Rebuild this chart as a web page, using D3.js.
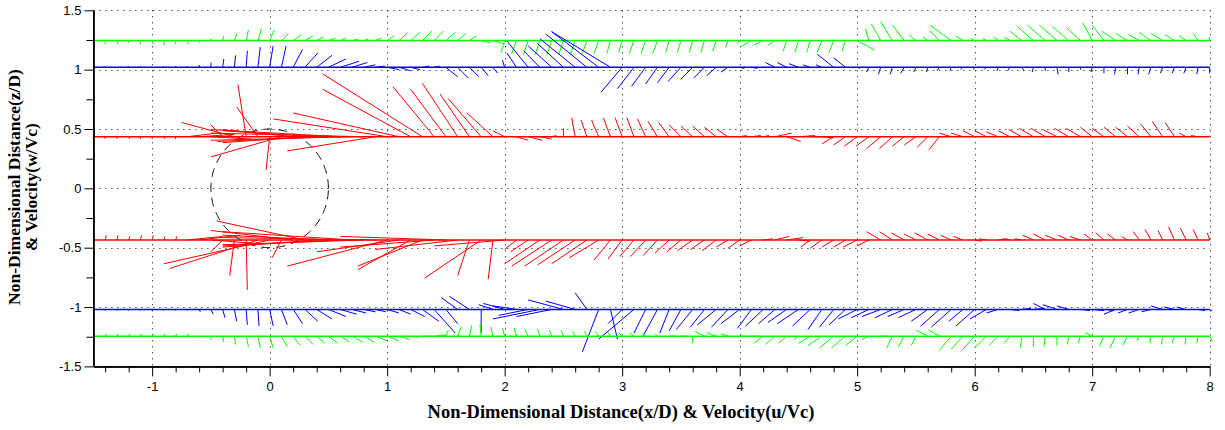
<!DOCTYPE html>
<html>
<head>
<meta charset="utf-8">
<script src="https://cdn.jsdelivr.net/npm/d3@7/dist/d3.min.js"></script>
<style>
  body { margin: 0; background: #fff; }
  .tick text { font-family: "Liberation Sans", Arial, sans-serif; font-size: 13px; fill: #000; }
  .title { font-family: "Liberation Serif", "Times New Roman", serif; font-weight: bold; fill: #000; }
</style>
</head>
<body>
<div id="chart"></div>
<script>
const width = 1225
const height = 430
const plot = {left: 93.4, right: 1209.7, top: 10.3, bottom: 366.4}

// measurement stations along x/D: x0, x0+step, ...
const x0 = -1.5
const step = 0.1

// rake heights (z/D) of the six traverses
const levels = [1.245, 1.02, 0.435, -0.435, -1.02, -1.245]
const colors = ["#00ff00", "#0000ff", "#ff0000", "#ff0000", "#0000ff", "#00ff00"]

// velocity components u/Vc and w/Vc, in hundredths
const greenTopU = [0,0,1,0,0,1,0,0,1, 0,0,1,2,2,3,4,6,7,7,6,6,5,5,4,5, 6,7,8,8,8,8,7,6,8,10,
  -3,-4,-4,-4,-4,-4,-4,-4,-4,-3, -3,-4,-4,-4,-3,-3,-3,-3,-3,-2, -2,-9,-8,-6,-3,-3,-3,-4,-4,-3,
  15,-3,-8,-10,-10,-6,-4,-8,-18,-6, -3,-3,-4,-5,-10,-14,-15,-15,-14,-12, -8,-10,-12,-10,-9,-10,-10,-8,-6,-4,0]
const greenTopW = [-3,-3,-3,-2,-3,-3,-4,-3,-3, -2,2,4,6,9,10,9,6,5,4, 3,2,2,1,1,2,4,6,7,8, 8,7,6,4,-2,-3,
  -10,-11,-12,-12,-12,-12,-12,-11,-11,-11, -10,-11,-11,-11,-10,-10,-10,-10,-9,-6, -3,-5,-4,-4,-9,-10,-10,-10,-10,-9,
  -8,10,14,16,13,5,3,8,13,4, 2,2,3,3,8,12,13,13,12,11, 15,13,8,6,5,7,6,5,4,6,3]

const blueTopU = [0,0,0,0,0,0,0,0,0, 0,0,1,1,1,2,3,4,8,11,13,15,16,13,10,8, 10,10,8,6,5,10,9,8,6,4,
  -2,-8,-18,-14,-20,-22,-30,-35,-40,-50, -18,-14,-12,-10,-10,-11,-10,-9,-8,-6, 4,5,2,-8,-8,-8,-6,-5,-14,-10,
  2,-2,-2,-2,-3,-2,-1,-2,-1,-2, -1,-2,-1,-2,2,-1,0,1,0,0, -1,0,-1,0,-1,-2,-2,-2,-2,-1,0]
const blueTopW = [1,1,0,1,1,0,1,1,1, 2,4,7,10,14,17,18,18,15,12,10,7,5,4,2,1, -2,-3,-2,1,1,-8,-9,-8,-7,-5,
  6,12,22,14,18,20,24,28,30,30, -21,-18,-16,-14,-13,-12,-10,-9,-7,-4, -1,-1,0,4,4,3,2,2,11,8,
  -1,-4,-6,-6,-5,-4,-4,-3,-3,-2, -2,-2,-3,-3,-3,-4,-3,-6,-4,-2, -4,-5,-6,-6,-6,-6,-5,-5,-5,-6,-5]

const redTopU = [0,0,0,1,0,0,1,0, 25,30,35, -10,-45,-7,-18,-3,-60,-60,-70, -80,-95,-110,-120,-130,-75,
  -97,-90,-75,-85,-35,-30,-30,-25,-28,-22,-10, 10,12,10,4,0,-3,-5,-6,-6,-6, -6,-7,-8,-9,-10,-10,-10,-10,-9,6,
  8,5,14,12,14,12,10,-10,-10,-11, -11,-12,-11,-10,-10,-9,-9,-10,-10,-10, -10,-10,-10,-11,-12,-12,-12,-12,-12,-10,
  -10,-10,-10,-10,-9,-9,-8,-6,-6,0]
const redTopW = [-2,-2,-2,-2,-2,-2,-2,-2, 3,2,-2, 10,12,44,25,-28,-17,6,-5, 5,-4,6,-3,3,-12,
  15,20,40,53,42,40,45,36,32,20,5, -3,-3,-2,1,7,16,14,14,16,16, 16,15,13,12,10,9,9,8,6,1,
  1,1,3,-4,1,0,-1,-6,-7,-8, -8,-10,-10,-8,-7,-9,-11,3,3,5, 5,4,5,6,7,7,6,7,7,8,
  7,8,8,9,11,13,12,3,1,1]

const redBotU = [1,1,1,1,1,1,1,1, 30,35,40, -10,-4,1,-75,-90,-8,-70,-75, -80,-90,-100,-110,-120,-130,
  -85,-70,-45,-55,-80,-90,-70,-10,-48,-4,-60, -10,-15,-30,-34,-33,-32,-30,-25,-14,-12, -12,-13,-12,-12,-12,-13,-12,-12,-10,-10,
  -10,8,12,14,10,-8,-10,-10,-10,-12, -10,-12,-11,-11,-10,-11,-10,-9,-8,6, -6,8,-6,-6,-9,-10,-10,-9,-9,-7,
  -7,-7,-5,-5,-5,-4,-5,-5,-4,-2]
const redBotW = [4,4,4,3,4,4,3,3, 3,4,-3, -10,-30,-42,-24,-20,-15,8,16, -6,4,-5,7,-4,2,
  -22,-10,-25,-22,-6,3,-8,-30,-32,-33,-5, -8,-10,-20,-22,-22,-21,-20,-15,-17,-16, -14,-14,-13,-11,-10,-9,-8,-9,-6,-7,
  -5,1,3,2,-1,-6,-7,-6,-6,-6, -5,7,7,6,5,6,5,4,3,-1, 1,1,1,1,4,5,4,4,3,5,
  6,5,3,7,9,8,11,10,9,6]

const blueBotU = [0,0,0,0,0,0,0,0,0, 1,2,2,2,1,1,3,5,8,11,13,15,14,12,10,9, 10,10,12,14,18,10,-14,-17,0,-12,
  -18,-20,-25,-40,-30,-30,-25,-10,-14,6, -12,-30,-10,-12,-8,-10,-14,-12,-16,-14, -16,-12,-15,-14,-16,-18,-15,-12,-12,-14,
  -16,-15,-16,-15,-14,-15,-14,-16,-17,-12, -16,-14,-10,8,8,10,-10,-12,-10,8, 10,8,-10,-8,-9,-8,-10,-9,-8,6,2]
const blueBotW = [-1,-1,-1,-1,-1,-1,-1,-1,-1, -2,-4,-7,-10,-13,-14,-14,-13,-12,-10,-8,-6,-4,-3,-2,-2, -3,-4,-6,-10,-20,-12,10,11,-20,4,
  5,3,-5,-8,-6,8,7,14,-36,-25, -12,-25,-20,-22,-20,-18,-17,-15,-13,-15, -12,-16,-14,-12,-11,-12,-14,-17,-15,-13,
  -8,-7,-6,-7,-6,-7,-10,-14,-15,-10, -14,-8,-3,-1,1,1,5,4,3,-1, -1,-1,-4,-3,-3,-2,3,2,2,-1,-1]

const greenBotU = [1,1,1,1,1,1,1,1,1, 0,0,1,1,2,2,3,5,6,7,7,8,8,9,9,10, 10,9,6,8,10,2,3,2,-1,-2,
  -2,-2,-3,-2,-2,-2,-2,-2,-3,-3, -3,-4,-3,-2,6,5,0,-8,-8,-6, 5,6,-8,-8,-7,-4,-10,-12,-12,-12,
  -10,-6,5,-5,-5,-4,-10,-9,-10,-10, -11,-10,-8,-5,-1,0,-1,0,-1,-2, -6,-4,-5,-4,-2,-1,-1,-2,-1,-1,2]
const greenBotW = [2,2,2,2,2,2,2,2,2, -1,-3,-5,-7,-9,-10,-10,-9,-8,-7,-6,-6,-5,-5,-5,-4, -4,-3,-1,0,1,5,8,9,10,8,
  7,7,6,6,5,5,4,4,4,4, 3,3,2,2,0,0,-6,4,3,2, 0,0,-6,-7,-6,-3,-6,-8,-10,-10,
  -8,-3,0,-10,-9,-8,5,5,-12,-11, -12,-10,-8,-6,-10,-9,-9,-8,-7,-6, 3,-9,-10,-8,-4,-6,-7,-6,-7,-6,-4]

const xTicks = [-1, 0, 1, 2, 3, 4, 5, 6, 7, 8]
const yTicks = [-1.5, -1, -0.5, 0, 0.5, 1, 1.5]
const cylinderR = 0.5

const series = [
  {u: greenTopU, w: greenTopW}, {u: blueTopU, w: blueTopW}, {u: redTopU, w: redTopW},
  {u: redBotU, w: redBotW}, {u: blueBotU, w: blueBotW}, {u: greenBotU, w: greenBotW}
].map((s, k) => ({...s, level: levels[k], color: colors[k]}))

const svg = d3.select("#chart").append("svg").attr("width", width).attr("height", height)

const x = d3.scaleLinear().domain([-1.5, 8]).range([plot.left, plot.right])
const y = d3.scaleLinear().domain([-1.5, 1.5]).range([plot.bottom, plot.top])

// dotted grid
const grid = svg.append("g").attr("stroke", "#000").attr("stroke-dasharray", "1,5").attr("stroke-width", 1)
grid.selectAll(".gx").data(xTicks).enter().append("line")
  .attr("x1", d => Math.round(x(d)) + 0.5).attr("x2", d => Math.round(x(d)) + 0.5)
  .attr("y1", plot.top).attr("y2", plot.bottom)
grid.selectAll(".gy").data(yTicks.filter(d => d > -1.5)).enter().append("line")
  .attr("y1", d => Math.round(y(d)) + 0.5).attr("y2", d => Math.round(y(d)) + 0.5)
  .attr("x1", plot.left).attr("x2", plot.right)

// cylinder outline
const circle = d3.line().x(d => x(cylinderR * Math.cos(d))).y(d => y(cylinderR * Math.sin(d)))
svg.append("path")
  .attr("d", circle(d3.range(0, 2 * Math.PI + 0.01, 0.02)))
  .attr("fill", "none").attr("stroke", "#000").attr("stroke-dasharray", "9,6")

// traverses: baseline plus one vector per station
const traverse = svg.selectAll(".traverse").data(series).enter().append("g")
  .attr("class", "traverse").attr("stroke", d => d.color).attr("stroke-width", 1)

traverse.append("line")
  .attr("x1", x(-1.5)).attr("x2", x(8))
  .attr("y1", d => y(d.level)).attr("y2", d => y(d.level))
  .attr("stroke-width", 1.5)

traverse.selectAll(".vec")
  .data(d => d.u.map((u, i) => ({xs: x0 + i * step, z: d.level, u: u / 100, w: d.w[i] / 100})))
  .enter().append("line")
  .attr("class", "vec")
  .attr("x1", d => x(d.xs)).attr("y1", d => y(d.z))
  .attr("x2", d => x(d.xs + d.u)).attr("y2", d => y(d.z + d.w))

// axes
const fmt = d => String(d)
const yAxis = svg.append("g").attr("transform", `translate(${plot.left},0)`)
  .call(d3.axisLeft(y).tickValues(yTicks).tickFormat(fmt).tickSize(9).tickSizeOuter(0).tickPadding(3))
const yMinor = svg.append("g").attr("transform", `translate(${plot.left},0)`)
  .call(d3.axisLeft(y).tickValues(d3.range(-1.25, 1.5, 0.5)).tickFormat("").tickSize(7).tickSizeOuter(0))
const xAxis = svg.append("g").attr("transform", `translate(0,${plot.bottom})`)
  .call(d3.axisBottom(x).tickValues(xTicks).tickFormat(fmt).tickSize(10).tickSizeOuter(0).tickPadding(5))
const xMinor = svg.append("g").attr("transform", `translate(0,${plot.bottom})`)
  .call(d3.axisBottom(x).tickValues(d3.range(-1.4, 8, 0.2).filter(v => Math.abs(v - Math.round(v)) > 0.05))
    .tickFormat("").tickSize(6).tickSizeOuter(0))
svg.selectAll(".domain").attr("stroke", "#000").attr("stroke-width", 1.5)
svg.selectAll(".tick line").attr("stroke", "#000")

// titles
svg.append("text").attr("class", "title")
  .attr("x", 621).attr("y", 418)
  .attr("text-anchor", "middle").style("font-size", "18.5px")
  .text("Non-Dimensional Distance(x/D) & Velocity(u/Vc)")

const yTitle = svg.append("text").attr("class", "title")
  .attr("transform", "translate(20,187) rotate(-90)")
  .attr("text-anchor", "middle").style("font-size", "17.5px")
yTitle.append("tspan").attr("x", 0).attr("dy", 0).text("Non-Dimensional Distance(z/D)")
yTitle.append("tspan").attr("x", 0).attr("dy", 17).text("& Velocity(w/Vc)")
</script>
</body>
</html>
